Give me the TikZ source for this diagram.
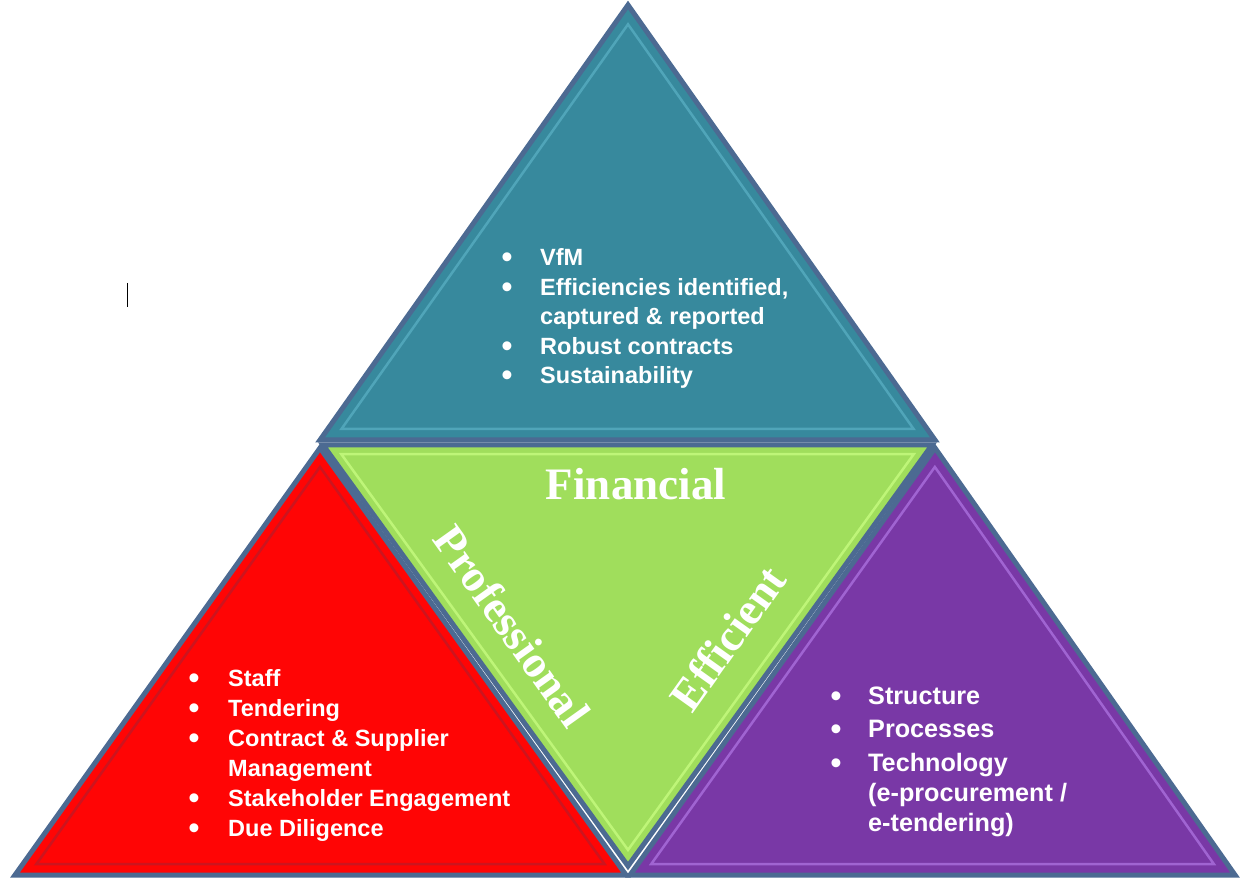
\documentclass[tikz,border=0pt]{standalone}
\usepackage{fontspec}
\setmainfont{Liberation Sans}
\newfontfamily\serifb{Liberation Serif}
\definecolor{tealc}{RGB}{55,137,157}
\definecolor{teall}{RGB}{80,165,185}
\definecolor{redc}{RGB}{255,5,5}
\definecolor{redd}{RGB}{205,20,30}
\definecolor{greenc}{RGB}{160,222,92}
\definecolor{greenl}{RGB}{190,245,120}
\definecolor{purplec}{RGB}{121,56,166}
\definecolor{purplel}{RGB}{160,100,210}
\definecolor{bordc}{RGB}{76,106,146}
\begin{document}
\begin{tikzpicture}[x=1pt,y=-1pt,
  bord/.style={draw=bordc, line width=5pt, line join=miter},
  bevel/.style={line width=2.5pt, line join=miter},
  txt/.style={text=white, font=\fontsize{23.5}{29.5}\selectfont\bfseries, anchor=base west, inner sep=0pt},
  txtp/.style={text=white, font=\fontsize{25.2}{30}\selectfont\bfseries, anchor=base west, inner sep=0pt},
  bul/.style={text=white, font=\fontsize{31}{31}\selectfont\bfseries, anchor=base, inner sep=0pt, yshift=-2pt},
  big/.style={text=white, font=\serifb\fontsize{45}{50}\selectfont\bfseries, inner sep=0pt}]
\useasboundingbox (0,0) rectangle (1251,890);
% teal
\path[bord, fill=tealc] (628,5) -- (935,440) -- (320,440) -- cycle;
\draw[bevel, draw=teall, scale around={0.93:(628,281)}] (628,5) -- (935,440) -- (320,440) -- cycle;
% red
\path[bord, fill=redc] (320,448) -- (626,875) -- (15,875) -- cycle;
\draw[bevel, draw=redd, scale around={0.93:(320,719)}] (320,448) -- (626,875) -- (15,875) -- cycle;
% purple
\path[bord, fill=purplec] (935,448) -- (1235,875) -- (630,875) -- cycle;
\draw[bevel, draw=purplel, scale around={0.93:(933,719)}] (935,448) -- (1235,875) -- (630,875) -- cycle;
% green
\path[bord, fill=greenc] (323,445) -- (932,445) -- (628,866) -- cycle;
\draw[bevel, draw=greenl, scale around={0.94:(628,598)}] (323,445) -- (932,445) -- (628,866) -- cycle;
% cursor mark
\draw[black, line width=1pt] (127,283) -- (127,307);
% top list
\node[bul] (tb1) at (507,266) {\textbullet};
\node[txt] (t1) at (540,266) {VfM};
\node[bul] (tb2) at (507,295.5) {\textbullet};
\node[txt] (t2) at (540,295.5) {Efficiencies identified,};
\node[txt] (t3) at (540,325) {captured \& reported};
\node[bul] (tb4) at (507,354.5) {\textbullet};
\node[txt] (t4) at (540,354.5) {Robust contracts};
\node[bul] (tb5) at (507,384) {\textbullet};
\node[txt] (t5) at (540,384) {Sustainability};
% red list
\node[bul] (rb1) at (194,686) {\textbullet};
\node[txt] (r1) at (228,686) {Staff};
\node[bul] (rb2) at (194,716) {\textbullet};
\node[txt] (r2) at (228,716) {Tendering};
\node[bul] (rb3) at (194,746) {\textbullet};
\node[txt] (r3) at (228,746) {Contract \& Supplier};
\node[txt] (r4) at (228,776) {Management};
\node[bul] (rb5) at (194,806) {\textbullet};
\node[txt] (r5) at (228,806) {Stakeholder Engagement};
\node[bul] (rb6) at (194,836) {\textbullet};
\node[txt] (r6) at (228,836) {Due Diligence};
% purple list
\node[bul] (pb1) at (836,704) {\textbullet};
\node[txtp] (p1) at (868,704) {Structure};
\node[bul] (pb2) at (836,737.5) {\textbullet};
\node[txtp] (p2) at (868,737.5) {Processes};
\node[bul] (pb3) at (836,771) {\textbullet};
\node[txtp] (p3) at (868,771) {Technology};
\node[txtp] (p4) at (868,801) {(e-procurement /};
\node[txtp] (p5) at (868,831) {e-tendering)};
% green labels
\node[big, anchor=base] (fin) at (636,500) {Financial};
\node[big, rotate=-54.5] (prof) at (512,626) {Professional};
\node[big, rotate=54.5] (eff) at (728,638) {Efficient};
\end{tikzpicture}
\end{document}
